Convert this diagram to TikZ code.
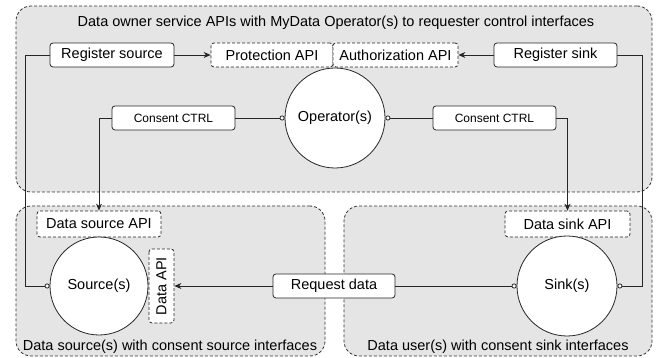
\documentclass[tikz,border=0pt]{standalone}
\usepackage{fontspec}
\setmainfont{Liberation Sans}
\usetikzlibrary{arrows.meta}
\begin{document}
\begin{tikzpicture}[x=1pt,y=-1pt,
  every node/.style={font=\fontsize{14.5}{16}\selectfont, inner sep=0pt},
  container/.style={draw=black!80, dashed, dash pattern=on 3pt off 2pt, fill=black!10,
    rounded corners=15pt, line width=0.8pt},
  apibox/.style={draw=black!85, dashed, dash pattern=on 3pt off 2pt, fill=white,
    rounded corners=3pt, line width=0.8pt},
  solidbox/.style={draw=black!85, fill=white, rounded corners=3pt, line width=0.8pt},
  agent/.style={draw=black!85, fill=white, circle, line width=0.8pt},
  link/.style={draw=black!85, line width=0.8pt},
  arr/.style={link, -{Stealth[length=7pt,width=6pt]}},
  circ/.style={link, -{Circle[open,length=5pt,width=5pt,fill=white]}},
]
\useasboundingbox (0,0) rectangle (657,358);

% containers
\node[container, minimum width=636pt, minimum height=186pt] (owner) at (334,99) {};
\node[container, minimum width=309pt, minimum height=150pt] (srcarea) at (170.5,281) {};
\node[container, minimum width=308pt, minimum height=150pt] (sinkarea) at (498,281) {};

% container captions
\node (ownertitle) at (336,23) {Data owner service APIs with MyData Operator(s) to requester control interfaces};
\node (srccap) at (170,347) {Data source(s) with consent source interfaces};
\node (sinkcap) at (498,347) {Data user(s) with consent sink interfaces};

% operator side
\node[solidbox, minimum width=124pt, minimum height=24pt] (regsrc) at (112,55) {Register source};
\node[apibox, minimum width=122pt, minimum height=24pt] (prot) at (272,55) {Protection API};
\node[apibox, minimum width=125pt, minimum height=24pt] (auth) at (395.5,55) {Authorization API};
\node[solidbox, minimum width=123pt, minimum height=24pt] (regsink) at (555.5,55) {Register sink};
\node[agent, minimum size=100pt] (op) at (335,118) {Operator(s)};
\node[solidbox, minimum width=123pt, minimum height=24pt, font=\fontsize{12}{14}\selectfont] (ctrlL) at (173.5,118) {Consent CTRL};
\node[solidbox, minimum width=123pt, minimum height=24pt, font=\fontsize{12}{14}\selectfont] (ctrlR) at (494.5,118) {Consent CTRL};

% source side
\node[apibox, minimum width=124pt, minimum height=26pt] (dsapi) at (99,224) {Data source API};
\node[agent, minimum size=98pt] (src) at (99,286) {Source(s)};
\node[apibox, rotate=90, minimum width=74pt, minimum height=25pt] (dapi) at (161.5,286) {Data API};
\node[solidbox, minimum width=122pt, minimum height=24pt] (req) at (334,286) {Request data};

% sink side
\node[apibox, minimum width=125pt, minimum height=26pt] (dkapi) at (567.5,224) {Data sink API};
\node[agent, minimum size=100pt] (sink) at (567,286) {Sink(s)};

% connectors
\draw[arr] (regsrc.east) -- (prot.west);
\draw[arr] (regsink.west) -- (auth.east);
\draw[circ] (regsrc.west) -- ++(-24,0) |- (src.west);
\draw[circ] (regsink.east) -- ++(25,0) |- (sink.east);
\draw[circ] (ctrlL.east) -- (op.west);
\draw[circ] (ctrlR.west) -- (op.east);
\draw[arr] (ctrlL.west) -| (dsapi.north);
\draw[arr] (ctrlR.east) -| (dkapi.north);
\draw[arr] (req.west) -- (dapi.south);
\draw[circ] (req.east) -- (sink.west);
\end{tikzpicture}
\end{document}
